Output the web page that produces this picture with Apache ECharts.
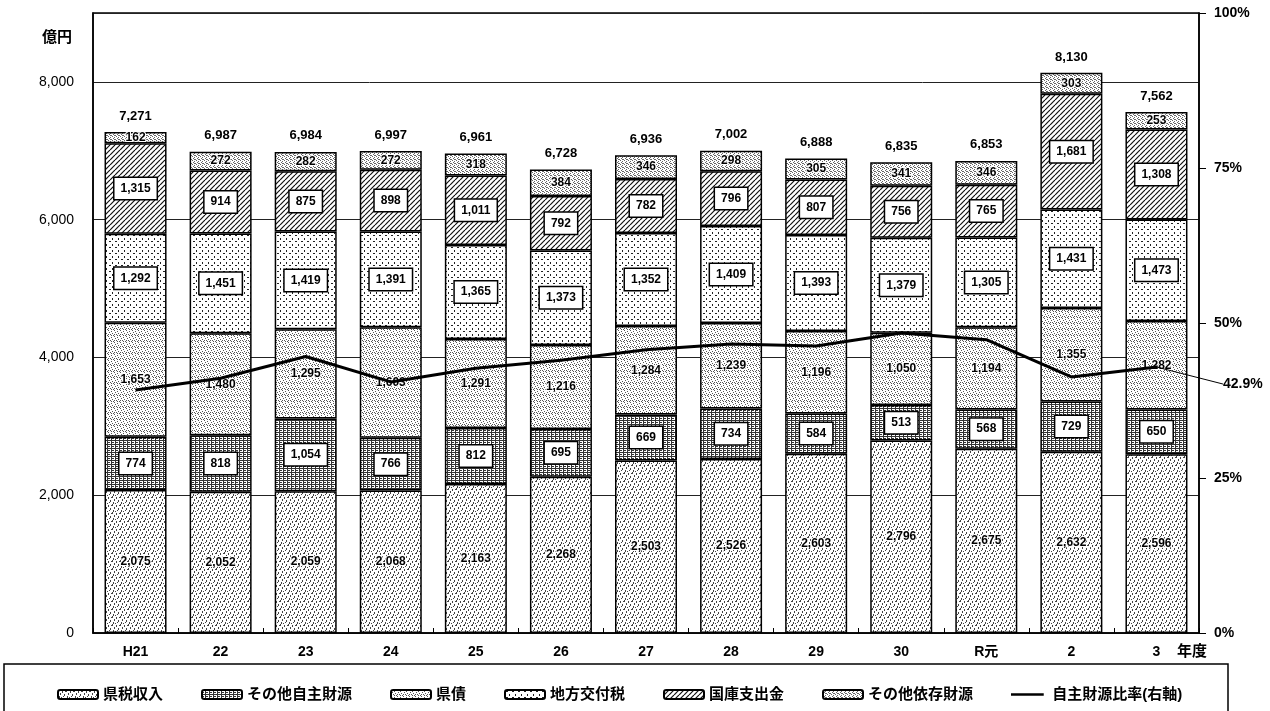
<!DOCTYPE html>
<html>
<head>
<meta charset="utf-8">
<script src="https://cdn.jsdelivr.net/npm/echarts@6/dist/echarts.min.js"></script>
<style>
  html, body { margin: 0; padding: 0; background: #fff; }
  #chart { width: 1270px; height: 711px; }
</style>
</head>
<body>
<div id="chart"></div>
<script>
// 年度
const categories = ['H21', '22', '23', '24', '25', '26', '27', '28', '29', '30', 'R元', '2', '3'];

// 歳入の内訳（億円）
const kenzei      = [2075, 2052, 2059, 2068, 2163, 2268, 2503, 2526, 2603, 2796, 2675, 2632, 2596]; // 県税収入
const sonotaJishu = [774, 818, 1054, 766, 812, 695, 669, 734, 584, 513, 568, 729, 650];           // その他自主財源
const kensai      = [1653, 1480, 1295, 1603, 1291, 1216, 1284, 1239, 1196, 1050, 1194, 1355, 1282]; // 県債
const kofuzei     = [1292, 1451, 1419, 1391, 1365, 1373, 1352, 1409, 1393, 1379, 1305, 1431, 1473]; // 地方交付税
const kokko       = [1315, 914, 875, 898, 1011, 792, 782, 796, 807, 756, 765, 1681, 1308];        // 国庫支出金
const sonotaIzon  = [162, 272, 282, 272, 318, 384, 346, 298, 305, 341, 346, 303, 253];            // その他依存財源

// 歳入合計（億円）
const totals = [7271, 6987, 6984, 6997, 6961, 6728, 6936, 7002, 6888, 6835, 6853, 8130, 7562];

// 自主財源比率（%）
const ratio = [39.2, 41.1, 44.6, 40.5, 42.7, 44.0, 45.7, 46.6, 46.3, 48.4, 47.3, 41.3, 42.9];

// 軸目盛
const leftTicks = { min: 0, max: 9000, interval: 2000 };
const rightTicks = { min: 0, max: 100, interval: 25 };

const FONT = "'Liberation Sans', 'Noto Sans CJK JP', sans-serif";

// モノクロ印刷風の塗りパターン
function pattern(w, h, draw) {
  const c = document.createElement('canvas');
  c.width = w; c.height = h;
  const g = c.getContext('2d');
  g.fillStyle = '#fff';
  g.fillRect(0, 0, w, h);
  draw(g);
  return { image: c, repeat: 'repeat' };
}
function specks(g, color, pts) {
  g.fillStyle = color;
  pts.forEach(p => g.fillRect(p[0], p[1], p[2] || 1, p[3] || 1));
}

const fillKenzei = pattern(8, 8, g => specks(g, '#444', [
  [0, 0, 1, 2], [4, 1, 1, 2], [2, 3, 1, 2], [6, 4, 1, 2], [1, 6, 1, 2], [5, 6, 1, 1], [3, 7, 1, 1], [7, 1, 1, 1]
]));
const fillSonotaJishu = pattern(4, 4, g => specks(g, '#333', [
  [0, 0, 4, 1], [0, 2, 2, 1], [3, 1, 1, 3]
]));
const fillKensai = pattern(6, 6, g => specks(g, '#555', [
  [0, 0], [3, 1], [1, 2], [4, 3], [2, 4], [5, 5], [0, 4], [3, 5]
]));
const fillKofuzei = pattern(6, 6, g => specks(g, '#222', [
  [1, 1, 2, 1], [4, 4, 1, 2]
]));
const fillKokko = pattern(5, 5, g => {
  g.strokeStyle = '#111';
  g.lineWidth = 1.2;
  [-5, 0, 5].forEach(k => {
    g.beginPath();
    g.moveTo(k, 5);
    g.lineTo(k + 5, 0);
    g.stroke();
  });
});
const fillSonotaIzon = pattern(4, 4, g => specks(g, '#666', [
  [0, 0], [2, 1], [1, 2], [3, 3], [2, 3]
]));

const fmt = v => Number(v).toLocaleString('en-US');

const plainLabel = {
  show: true,
  position: 'inside',
  formatter: p => fmt(p.value),
  color: '#000',
  fontFamily: FONT,
  fontSize: 12,
  fontWeight: 'bold',
  textBorderColor: '#fff',
  textBorderWidth: 2
};
const boxedLabel = {
  show: true,
  position: 'inside',
  formatter: p => fmt(p.value),
  color: '#000',
  fontFamily: FONT,
  fontSize: 12,
  fontWeight: 'bold',
  backgroundColor: '#fff',
  borderColor: '#000',
  borderWidth: 1.5,
  padding: [5, 6, 4, 6]
};

function barSeries(name, data, fill, label) {
  return {
    name: name,
    type: 'bar',
    stack: 'revenue',
    barWidth: 62,
    data: data,
    itemStyle: { color: fill, borderColor: '#000', borderWidth: 1.5 },
    label: label,
    emphasis: { disabled: true },
    z: 2
  };
}

const lastIdx = ratio.length - 1;

// 凡例の線アイコン（細い横線）
const lineIcon = 'path://M0,0L0,0M0,4L40,4L40,7L0,7ZM40,11L40,11';

const option = {
  animation: false,
  backgroundColor: '#fff',
  textStyle: { fontFamily: FONT, color: '#000' },
  grid: {
    left: 93, right: 71, top: 13, bottom: 78,
    show: true, borderColor: '#000', borderWidth: 1.5, backgroundColor: 'transparent'
  },
  legend: {
    left: 52,
    top: 682,
    itemWidth: 40,
    itemHeight: 9,
    itemGap: 38,
    textStyle: { fontFamily: FONT, fontSize: 15, fontWeight: 'bold', color: '#000' },
    data: [
      '県税収入', 'その他自主財源', '県債', '地方交付税', '国庫支出金', 'その他依存財源',
      { name: '自主財源比率(右軸)', icon: lineIcon }
    ]
  },
  xAxis: {
    type: 'category',
    data: categories,
    axisLine: { lineStyle: { color: '#000', width: 1.5 } },
    axisTick: { show: true, inside: true, length: 5, lineStyle: { color: '#000' } },
    axisLabel: { margin: 12, fontFamily: FONT, fontSize: 14, fontWeight: 'bold', color: '#000' }
  },
  yAxis: [
    {
      type: 'value',
      min: leftTicks.min, max: leftTicks.max, interval: leftTicks.interval,
      axisLine: { show: true, lineStyle: { color: '#000', width: 1.5 } },
      axisTick: { show: false },
      axisLabel: {
        margin: 19, fontFamily: FONT, fontSize: 14, color: '#000',
        formatter: v => (v === leftTicks.max ? '' : fmt(v))
      },
      splitLine: { lineStyle: { color: '#222', width: 1 } }
    },
    {
      type: 'value',
      position: 'right',
      min: rightTicks.min, max: rightTicks.max, interval: rightTicks.interval,
      axisLine: { show: true, lineStyle: { color: '#000', width: 1.5 } },
      axisTick: { show: true, length: 7, lineStyle: { color: '#000' } },
      axisLabel: { margin: 15, fontFamily: FONT, fontSize: 14, fontWeight: 'bold', color: '#000', formatter: '{value}%' },
      splitLine: { show: false }
    }
  ],
  graphic: [
    { type: 'text', left: 42, top: 30, style: { text: '億円', fontFamily: FONT, fontSize: 15, fontWeight: 'bold', fill: '#000' } },
    { type: 'text', left: 1177, top: 644, style: { text: '年度', fontFamily: FONT, fontSize: 15, fontWeight: 'bold', fill: '#000' } },
    { type: 'rect', shape: { x: 4, y: 664, width: 1224, height: 60 }, style: { fill: 'none', stroke: '#000', lineWidth: 1.5 }, silent: true }
  ],
  series: [
    barSeries('県税収入', kenzei, fillKenzei, plainLabel),
    barSeries('その他自主財源', sonotaJishu, fillSonotaJishu, boxedLabel),
    barSeries('県債', kensai, fillKensai, plainLabel),
    barSeries('地方交付税', kofuzei, fillKofuzei, boxedLabel),
    barSeries('国庫支出金', kokko, fillKokko, boxedLabel),
    barSeries('その他依存財源', sonotaIzon, fillSonotaIzon, plainLabel),
    {
      // 合計値の表示
      name: '合計',
      type: 'line',
      data: totals,
      symbol: 'circle',
      symbolSize: 1,
      itemStyle: { color: 'transparent' },
      lineStyle: { opacity: 0 },
      label: {
        show: true, position: 'top', distance: 9,
        formatter: p => fmt(p.value),
        fontFamily: FONT, fontSize: 13, fontWeight: 'bold', color: '#000'
      },
      emphasis: { disabled: true },
      silent: true,
      z: 5
    },
    {
      name: '自主財源比率(右軸)',
      type: 'line',
      yAxisIndex: 1,
      symbol: 'none',
      data: ratio.map((v, i) => i === lastIdx
        ? { value: v, symbol: 'circle', symbolSize: 3, label: { show: true } }
        : v),
      lineStyle: { color: '#000', width: 3 },
      itemStyle: { color: '#000' },
      label: {
        show: false, position: 'right', formatter: '{c}%',
        fontFamily: FONT, fontSize: 14, fontWeight: 'bold', color: '#000'
      },
      labelLine: { show: true, lineStyle: { color: '#000', width: 1 } },
      labelLayout: p => (p.dataIndex === lastIdx ? { dx: 60, dy: 17 } : null),
      emphasis: { disabled: true },
      z: 6
    }
  ]
};

const chart = echarts.init(document.getElementById('chart'), null, { renderer: 'canvas' });
chart.setOption(option);
</script>
</body>
</html>
